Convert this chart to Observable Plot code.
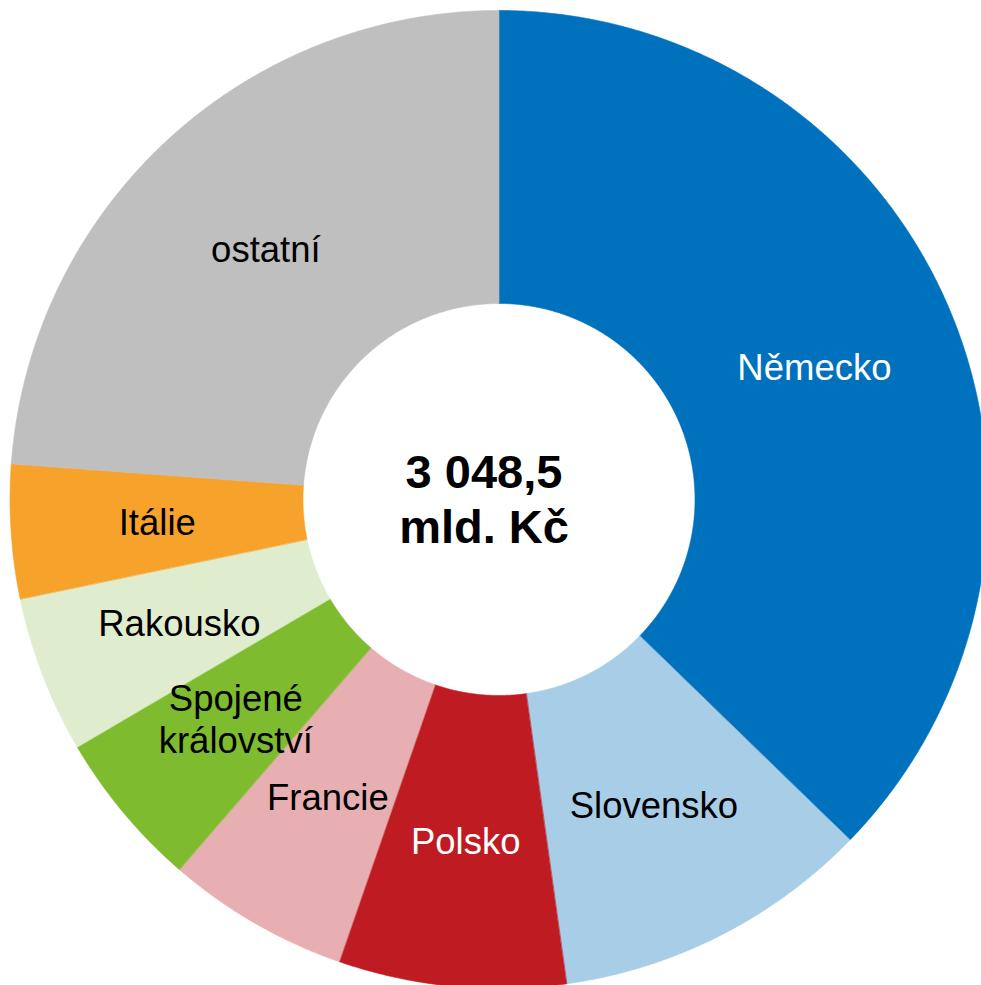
<!DOCTYPE html>
<html>
<head>
<meta charset="utf-8">
<script src="https://cdn.jsdelivr.net/npm/d3@7"></script>
<script src="https://cdn.jsdelivr.net/npm/@observablehq/plot@0.6"></script>
<style>
  html, body { margin: 0; padding: 0; background: #ffffff; }
  #chart svg { display: block; }
</style>
</head>
<body>
<div id="chart"></div>
<script>
// Data (mld. Kč)
const countries = ["Německo", "Slovensko", "Polsko", "Francie", "Spojené\nkrálovství", "Rakousko", "Itálie", "ostatní"];
const values = [1136, 321, 229, 184, 159, 158, 135, 726.5];
const sliceColors = ["#0071BC", "#A7CDE7", "#BE1B22", "#E8AFB3", "#7FBB2E", "#DFEDCE", "#F7A22A", "#BFBFBF"];
const labelColors = ["white", "black", "white", "black", "black", "black", "black", "black"];
const centerLabel = ["3 048,5\nmld. Kč"];

const innerR = 196 / 489;
const data = countries.map((c, i) => ({country: c, value: values[i], labelColor: labelColors[i]}));
const arcs = d3.pie().sort(null).value(d => d.value).startAngle(0).endAngle(2 * Math.PI)(data);

// polygon outline of each ring segment, sampled from the pie angles
const pts = [];
for (const a of arcs) {
  const n = Math.max(8, Math.ceil((a.endAngle - a.startAngle) / 0.005));
  for (let k = 0; k <= n; k++) {
    const t = a.startAngle + (a.endAngle - a.startAngle) * k / n;
    pts.push({country: a.data.country, x: Math.sin(t), y: Math.cos(t)});
  }
  for (let k = n; k >= 0; k--) {
    const t = a.startAngle + (a.endAngle - a.startAngle) * k / n;
    pts.push({country: a.data.country, x: innerR * Math.sin(t), y: innerR * Math.cos(t)});
  }
}
const labels = arcs.map(a => {
  const m = (a.startAngle + a.endAngle) / 2, r = (1 + innerR) / 2;
  return {text: a.data.country, x: r * Math.sin(m), y: r * Math.cos(m), fill: a.data.labelColor};
});

const chart = Plot.plot({
  width: 981,
  height: 985,
  margin: 0,
  style: {background: "white", fontFamily: "'Liberation Sans', Arial, sans-serif"},
  x: {domain: [-1, 1], range: [9.5, 987.5], axis: null},
  y: {domain: [-1, 1], range: [988, 10], axis: null},
  color: {domain: countries, range: sliceColors},
  marks: [
    Plot.line(pts, {x: "x", y: "y", z: "country", fill: "country", stroke: "country", strokeWidth: 0.6, curve: "linear-closed"}),
    Plot.text(labels, {x: "x", y: "y", text: "text", fill: d => d.fill, fontSize: 36.5, lineHeight: 1.15, fontFamily: "'Liberation Sans', Arial, sans-serif"}),
    Plot.text(centerLabel, {x: () => 0, y: () => 0, text: d => d, dx: -15, dy: -1.5, fontSize: 47, fontWeight: "bold", lineHeight: 1.17, fill: "black", fontFamily: "'Liberation Sans', Arial, sans-serif"})
  ]
});
document.getElementById("chart").appendChild(chart);
</script>
</body>
</html>
